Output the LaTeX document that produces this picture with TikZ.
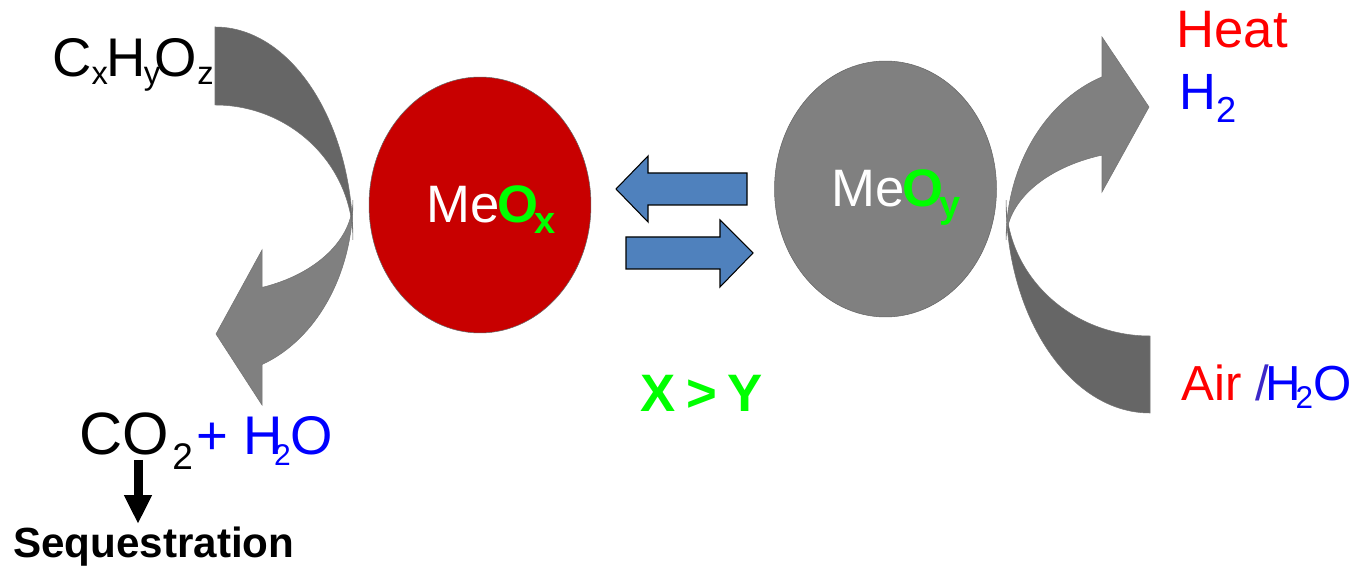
\documentclass[tikz,border=0pt]{standalone}
\usepackage{fontspec}
\setmainfont{Liberation Sans}
\usepackage{xcolor}
\usetikzlibrary{arrows.meta,shapes.geometric}
\definecolor{oxRedC}{RGB}{200,0,0}
\definecolor{textRedC}{RGB}{255,0,0}
\definecolor{greenC}{RGB}{0,255,0}
\definecolor{blueC}{RGB}{0,0,255}
\definecolor{slashC}{RGB}{60,40,200}
\definecolor{swapC}{RGB}{79,129,189}
\definecolor{darkbandC}{RGB}{102,102,102}
\definecolor{lightbandC}{RGB}{128,128,128}
% lowered, shrunk subscript: [drop]{scale}{text}
\newcommand{\dsub}[3][4pt]{\raisebox{-#1}{\scalebox{#2}{#3}}}

\begin{document}
\begin{tikzpicture}[x=0.02cm,y=0.02cm,
  chem/.style={anchor=base west,inner sep=0pt,font=\fontsize{30pt}{36pt}\selectfont},
  band/.style={draw=black!55,line width=0.3pt},
  ball/.style={ellipse,draw=black!60,line width=0.3pt,minimum width=4.44cm,
               minimum height=5.12cm,inner sep=0pt},
  swap/.style={fill=swapC,draw=black,line width=0.6pt,line join=miter}]
  \useasboundingbox (0,0) rectangle (1353,-567);

  % Left curved arrow (fuel in, products out)
  \path[fill=lightbandC,band] (262.2,-287.4)
    arc[start angle=-70,end angle=0,x radius=2.76cm,y radius=1.86cm]
    arc[start angle=0,end angle=-70,x radius=2.76cm,y radius=3.5cm]
    -- (262,-405) -- (216,-334) -- (262,-250) -- cycle;
  \path[fill=darkbandC,band] (215,-27)
    arc[start angle=90,end angle=0,x radius=2.76cm,y radius=4.26cm]
    arc[start angle=0,end angle=90,x radius=2.76cm,y radius=2.7cm] -- cycle;

  % Right curved arrow (air/steam in, heat/H2 out)
  \path[fill=darkbandC,band] (1150,-413)
    arc[start angle=-90,end angle=-180,x radius=2.88cm,y radius=4.26cm]
    arc[start angle=180,end angle=270,x radius=2.88cm,y radius=2.72cm] -- cycle;
  \path[fill=lightbandC,band] (1102,-155.1)
    arc[start angle=109.5,end angle=180,x radius=2.88cm,y radius=1.8cm]
    arc[start angle=180,end angle=109.5,x radius=2.88cm,y radius=3.46cm]
    -- (1102,-37) -- (1149,-107) -- (1102,-192) -- cycle;

  % Oxide particles
  \node[ball,fill=oxRedC] (meox) at (480,-205) {};
  \node[ball,fill=lightbandC] (meoy) at (885.5,-189) {};
  \node[chem] (meoxlab) at (426,-223)
    {\textcolor{white}{Me}\kern-1pt\textcolor{greenC}{\bfseries O\kern-2.5pt\dsub[5.7pt]{0.72}{x}}};
  \node[chem] (meoylab) at (831,-207)
    {\textcolor{white}{Me}\kern-1pt\textcolor{greenC}{\bfseries O\kern-2.5pt\dsub[5.7pt]{0.72}{y}}};

  % Exchange arrows
  \draw[swap] (747,-173) -- (648,-173) -- (648,-156) -- (616,-189)
    -- (648,-222) -- (648,-205) -- (747,-205) -- cycle;
  \draw[swap] (626,-237) -- (720,-237) -- (720,-220) -- (753,-253)
    -- (720,-287) -- (720,-269) -- (626,-269) -- cycle;
  \node[chem,greenC,font=\bfseries\fontsize{30pt}{36pt}\selectfont] (ratio)
    at (640,-412) {\spaceskip=6pt X > Y};

  % Species
  \node[chem,font=\fontsize{31pt}{36pt}\selectfont] (fuel) at (52,-77)
    {C\dsub[4.5pt]{0.6}{x}\kern-1pt H\kern-1pt\dsub[4.5pt]{0.6}{y}\kern-3pt O\dsub[4.5pt]{0.6}{z}};
  \node[chem,textRedC] (heat) at (1176,-48) {Heat};
  \node[chem,blueC,font=\fontsize{29pt}{34pt}\selectfont] (htwo) at (1179,-110)
    {H\dsub[7.4pt]{0.71}{2}};
  \node[chem,font=\fontsize{28pt}{34pt}\selectfont] (feed) at (1181,-401)
    {\textcolor{textRedC}{Air} \textcolor{slashC}{/}\kern-2pt\textcolor{blueC}{H\kern-3pt\dsub[4pt]{0.64}{2}O}};
  \node[chem,font=\fontsize{34pt}{40pt}\selectfont] (co2) at (79,-455)
    {CO\kern2pt\dsub[8pt]{0.62}{2}\kern2pt\textcolor{blueC}{\fontsize{31pt}{36pt}\selectfont+ H\kern-5pt\dsub[5.7pt]{0.55}{2}O}};
  \node[chem,font=\bfseries\fontsize{24pt}{28pt}\selectfont] (seq) at (13,-558)
    {Sequestration};

  % CO2 to storage
  \coordinate (co2foot) at (138,-460);
  \coordinate (seqtip) at (138,-524);
  \draw[line width=0.18cm,-{Triangle[width=0.52cm,length=0.58cm]}] (co2foot) -- (seqtip);
\end{tikzpicture}
\end{document}
